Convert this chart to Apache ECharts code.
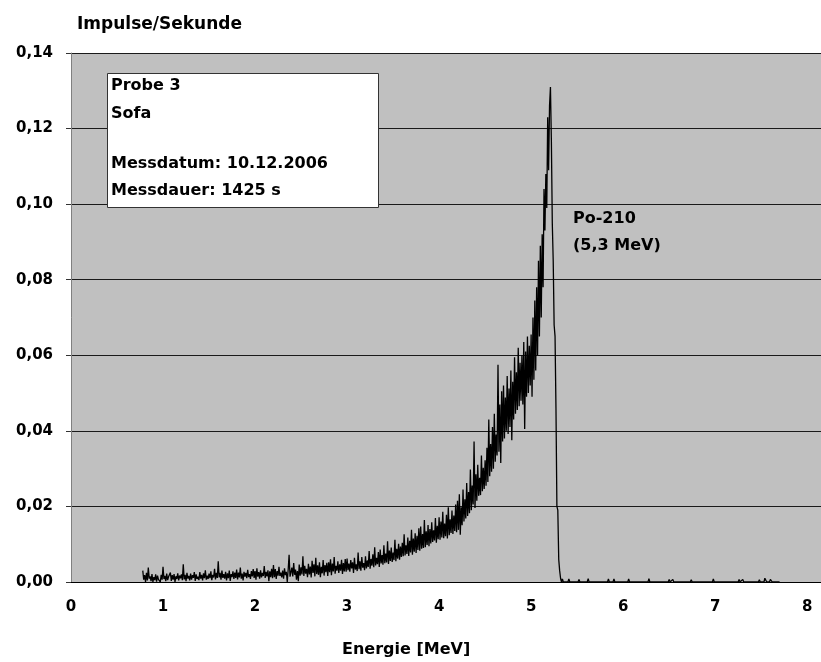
<!DOCTYPE html>
<html>
<head>
<meta charset="utf-8">
<script src="https://cdn.jsdelivr.net/npm/echarts@6/dist/echarts.min.js"></script>
<style>
html,body{margin:0;padding:0;background:#fff;}
#chart{width:821px;height:662px;}
</style>
</head>
<body>
<div id="chart"></div>
<script>
// ---- data ----
const xTicks = [0, 1, 2, 3, 4, 5, 6, 7, 8];
const yTicks = [0, 0.02, 0.04, 0.06, 0.08, 0.10, 0.12, 0.14];

// Channel calibration: first channel at 0.78 MeV, 0.01 MeV per channel
const channelStart = 0.78;
const channelWidth = 0.01;

// Channels 0.78 .. 2.99 MeV (Impulse/Sekunde)
const lowCounts = [
  0.0030, 0.0006,
  0.0018, 0.0000, 0.0024, 0.0004, 0.0038, 0.0009, 0.0015, 0.0002, 0.0021, 0.0000,
  0.0013, 0.0005, 0.0020, 0.0001, 0.0017, 0.0007, 0.0012, 0.0000, 0.0019, 0.0006,
  0.0040, 0.0008, 0.0016, 0.0002, 0.0022, 0.0005, 0.0014, 0.0009, 0.0025, 0.0003,
  0.0018, 0.0006, 0.0021, 0.0000, 0.0015, 0.0008, 0.0023, 0.0004, 0.0017, 0.0010,
  0.0020, 0.0005, 0.0047, 0.0007, 0.0019, 0.0002, 0.0024, 0.0009, 0.0016, 0.0004,
  0.0022, 0.0006, 0.0018, 0.0011, 0.0026, 0.0003, 0.0020, 0.0008, 0.0014, 0.0005,
  0.0026, 0.0009, 0.0019, 0.0004, 0.0023, 0.0010, 0.0031, 0.0006, 0.0017, 0.0008,
  0.0022, 0.0010, 0.0028, 0.0005, 0.0019, 0.0012, 0.0035, 0.0007, 0.0024, 0.0011,
  0.0055, 0.0012, 0.0024, 0.0006, 0.0030, 0.0011, 0.0021, 0.0009, 0.0027, 0.0004,
  0.0023, 0.0010, 0.0030, 0.0003, 0.0021, 0.0013, 0.0028, 0.0008, 0.0025, 0.0011,
  0.0033, 0.0007, 0.0025, 0.0012, 0.0038, 0.0009, 0.0022, 0.0004, 0.0027, 0.0014,
  0.0024, 0.0010, 0.0032, 0.0013, 0.0021, 0.0008, 0.0029, 0.0015, 0.0034, 0.0011,
  0.0029, 0.0006, 0.0036, 0.0014, 0.0026, 0.0009, 0.0031, 0.0012, 0.0024, 0.0016,
  0.0042, 0.0011, 0.0027, 0.0015, 0.0031, 0.0002, 0.0028, 0.0013, 0.0035, 0.0010,
  0.0045, 0.0013, 0.0034, 0.0008, 0.0029, 0.0017, 0.0040, 0.0016, 0.0025, 0.0012,
  0.0030, 0.0009, 0.0036, 0.0018, 0.0027, 0.0000, 0.0033, 0.0072, 0.0014, 0.0010,
  0.0038, 0.0015, 0.0050, 0.0019, 0.0033, 0.0006, 0.0029, 0.0002, 0.0046, 0.0017,
  0.0039, 0.0020, 0.0068, 0.0016, 0.0043, 0.0022, 0.0035, 0.0013, 0.0048, 0.0020,
  0.0041, 0.0012, 0.0056, 0.0024, 0.0047, 0.0015, 0.0064, 0.0021, 0.0044, 0.0019,
  0.0052, 0.0013, 0.0040, 0.0023, 0.0058, 0.0017, 0.0045, 0.0026, 0.0051, 0.0016,
  0.0052, 0.0026, 0.0060, 0.0018, 0.0049, 0.0028, 0.0066, 0.0022, 0.0043, 0.0030,
  0.0055, 0.0024, 0.0047, 0.0030, 0.0059, 0.0021, 0.0050, 0.0028, 0.0061, 0.0027
];

// Channels 3.00 .. 4.99 MeV
const midCounts = [
  0.0062, 0.0031, 0.0049, 0.0027, 0.0058, 0.0036, 0.0052, 0.0024, 0.0064, 0.0033,
  0.0047, 0.0029, 0.0078, 0.0034, 0.0055, 0.0030, 0.0066, 0.0038, 0.0050, 0.0031,
  0.0068, 0.0036, 0.0057, 0.0040, 0.0082, 0.0035, 0.0061, 0.0043, 0.0073, 0.0039,
  0.0092, 0.0044, 0.0064, 0.0047, 0.0079, 0.0040, 0.0086, 0.0049, 0.0071, 0.0046,
  0.0097, 0.0050, 0.0075, 0.0052, 0.0108, 0.0048, 0.0083, 0.0056, 0.0091, 0.0053,
  0.0078, 0.0058, 0.0112, 0.0055, 0.0088, 0.0062, 0.0101, 0.0059, 0.0094, 0.0066,
  0.0104, 0.0068, 0.0126, 0.0070, 0.0097, 0.0074, 0.0118, 0.0069, 0.0109, 0.0078,
  0.0138, 0.0072, 0.0115, 0.0080, 0.0129, 0.0077, 0.0122, 0.0085, 0.0142, 0.0083,
  0.0147, 0.0088, 0.0127, 0.0090, 0.0164, 0.0092, 0.0134, 0.0098, 0.0151, 0.0095,
  0.0140, 0.0102, 0.0158, 0.0106, 0.0137, 0.0110, 0.0169, 0.0104, 0.0149, 0.0113,
  0.0171, 0.0112, 0.0160, 0.0118, 0.0186, 0.0116, 0.0155, 0.0121, 0.0178, 0.0115,
  0.0198, 0.0124, 0.0166, 0.0130, 0.0189, 0.0127, 0.0176, 0.0135, 0.0205, 0.0132,
  0.0215, 0.0138, 0.0232, 0.0125, 0.0198, 0.0150, 0.0245, 0.0160, 0.0219, 0.0168,
  0.0262, 0.0175, 0.0238, 0.0182, 0.0298, 0.0190, 0.0255, 0.0205, 0.0372, 0.0196,
  0.0285, 0.0215, 0.0310, 0.0228, 0.0276, 0.0230, 0.0335, 0.0240, 0.0302, 0.0246,
  0.0322, 0.0255, 0.0355, 0.0265, 0.0430, 0.0280, 0.0365, 0.0292, 0.0410, 0.0300,
  0.0445, 0.0318, 0.0390, 0.0335, 0.0575, 0.0345, 0.0470, 0.0315, 0.0505, 0.0372,
  0.0520, 0.0380, 0.0488, 0.0400, 0.0545, 0.0392, 0.0512, 0.0410, 0.0560, 0.0375,
  0.0530, 0.0430, 0.0595, 0.0445, 0.0555, 0.0455, 0.0620, 0.0465, 0.0580, 0.0480,
  0.0600, 0.0470, 0.0635, 0.0405, 0.0610, 0.0490, 0.0650, 0.0500, 0.0625, 0.0520
];

// Channels 5.00 .. 5.36 MeV (Po-210 peak)
const peakCounts = [
  0.0655, 0.0490, 0.0700, 0.0535, 0.0745, 0.0560, 0.0780, 0.0600, 0.0850, 0.0650,
  0.0890, 0.0700, 0.0920, 0.0780, 0.1040, 0.0930, 0.1080, 0.0990, 0.1230, 0.1090,
  0.1260, 0.1310, 0.1170, 0.0950, 0.0850, 0.0680, 0.0650, 0.0460, 0.0200, 0.0190,
  0.0060, 0.0030, 0.0010, 0.0000, 0.0008, 0.0000, 0.0000
];

// Tail above the peak: [energy MeV, Impulse/s]
const tailPoints = [
  [5.40, 0], [5.41, 0.0008], [5.42, 0], [5.51, 0], [5.52, 0.0007], [5.53, 0],
  [5.61, 0], [5.62, 0.0009], [5.63, 0], [5.83, 0], [5.84, 0.0008], [5.85, 0],
  [5.89, 0], [5.90, 0.0008], [5.91, 0], [6.05, 0], [6.06, 0.0008], [6.07, 0],
  [6.27, 0], [6.28, 0.0009], [6.29, 0], [6.49, 0], [6.50, 0.0007], [6.51, 0],
  [6.53, 0], [6.54, 0.0007], [6.55, 0], [6.73, 0], [6.74, 0.0006], [6.75, 0],
  [6.97, 0], [6.98, 0.0008], [6.99, 0], [7.25, 0], [7.26, 0.0007], [7.27, 0],
  [7.29, 0], [7.30, 0.0007], [7.31, 0], [7.47, 0], [7.48, 0.0006], [7.49, 0],
  [7.53, 0], [7.54, 0.0010], [7.55, 0.0009], [7.56, 0], [7.59, 0], [7.60, 0.0007],
  [7.61, 0.0008], [7.62, 0], [7.70, 0]
];

// Annotation texts
const sampleLines = ['Probe 3', 'Sofa', '', 'Messdatum: 10.12.2006', 'Messdauer: 1425 s'];
const peakLines = ['Po-210', '(5,3 MeV)'];
const yTitle = 'Impulse/Sekunde';
const xTitle = 'Energie [MeV]';

// ---- build ----
const seriesData = [];
lowCounts.concat(midCounts, peakCounts).forEach((v, i) =>
  seriesData.push([+(channelStart + i * channelWidth).toFixed(3), v]));
tailPoints.forEach(p => seriesData.push(p));

const FONT = 'DejaVu Sans';
const chart = echarts.init(document.getElementById('chart'), null, {renderer: 'canvas'});

const extraGraphics = [];
extraGraphics.push({
  type: 'rect', left: 107, top: 73, z: 50,
  shape: {width: 271, height: 134},
  style: {fill: '#fff', stroke: '#333', lineWidth: 1}
});
const lineTops = [78, 106, 132, 156, 183];
sampleLines.forEach((t, i) => {
  if (!t) return;
  extraGraphics.push({
    type: 'text', left: 111, top: lineTops[i], z: 51,
    style: {text: t, font: 'bold 16px "' + FONT + '"', fill: '#000'}
  });
});
peakLines.forEach((t, i) => {
  extraGraphics.push({
    type: 'text', left: 573, top: 211 + i * 27, z: 51,
    style: {text: t, font: 'bold 16px "' + FONT + '"', fill: '#000'}
  });
});
extraGraphics.push({
  type: 'text', left: 77, top: 16, z: 51,
  style: {text: yTitle, font: 'bold 17px "' + FONT + '"', fill: '#000'}
});
extraGraphics.push({
  type: 'text', left: 342, top: 642, z: 51,
  style: {text: xTitle, font: 'bold 16px "' + FONT + '"', fill: '#000'}
});

chart.setOption({
  animation: false,
  backgroundColor: '#ffffff',
  grid: {
    left: 71, right: 0, top: 53, bottom: 80,
    show: true, backgroundColor: '#c0c0c0', borderWidth: 0
  },
  xAxis: {
    type: 'value', min: 0, max: 8.15, interval: 1,
    axisLine: {show: true, lineStyle: {color: '#000', width: 1}},
    axisTick: {show: false},
    splitLine: {show: false},
    axisLabel: {
      margin: 18, fontFamily: FONT, fontWeight: 'bold', fontSize: 15, color: '#000',
      showMaxLabel: false,
      formatter: v => (xTicks.indexOf(Math.round(v * 1000) / 1000) >= 0 ? String(v) : '')
    }
  },
  yAxis: {
    type: 'value', min: 0, max: 0.14, interval: 0.02,
    axisLine: {show: true, lineStyle: {color: '#808080', width: 1}},
    axisTick: {show: true, length: 5, lineStyle: {color: '#333'}},
    splitLine: {show: true, lineStyle: {color: '#1a1a1a', width: 1}},
    axisLabel: {
      margin: 18, fontFamily: FONT, fontWeight: 'bold', fontSize: 15, color: '#000',
      formatter: v => {
        const t = yTicks.find(y => Math.abs(y - v) < 1e-9);
        return t === undefined ? '' : t.toFixed(2).replace('.', ',');
      }
    }
  },
  series: [{
    type: 'line', data: seriesData, showSymbol: false, symbol: 'none',
    sampling: null, z: 10,
    lineStyle: {color: '#000', width: 1.3}
  }],
  graphic: extraGraphics
});
</script>
</body>
</html>
